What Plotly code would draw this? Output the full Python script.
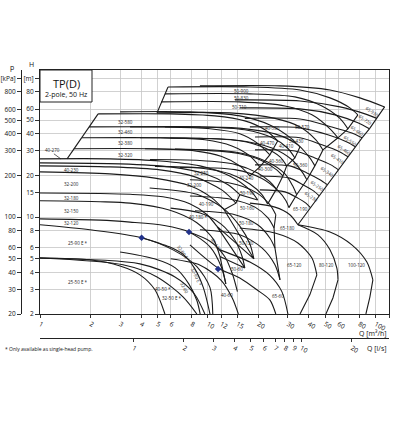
import numpy as np
import plotly.graph_objects as go

FONT = "Open Sans"
INK = "#1b1b1b"
GRID = "#c6c6c6"

# ---------------- axes -----------------
q_ticks = [1, 2, 3, 4, 5, 6, 8, 10, 12, 15, 20, 30, 40, 50, 60, 80, 100, 120]
h_ticks = [2, 3, 4, 5, 6, 8, 10, 15, 20, 30, 40, 50, 60, 80, 100]
h_text = ["2", "3", "4", "5", "6", "8", "10", "15", "20", "30", "40", "50", "60", "80", "[m]"]
p_ticks = [20, 30, 40, 50, 60, 80, 100, 200, 300, 400, 500, 600, 800, 1000]
p_text = ["20", "30", "40", "50", "60", "80", "100", "200", "300", "400", "500", "600", "800", "[kPa]"]
ls_ticks = [1, 2, 3, 4, 5, 6, 7, 8, 9, 10, 20]
q_range = [1, 120]
h_range = [2, 115]

# ---------------- pump curves (Q m3/h, H m) -----------------
tp32_580 = ([2.22, 5.95, 11.0, 16.6, 21.9, 26.1], [55.5, 55.5, 53.7, 49.4, 42.6, 35.5])
tp32_460 = ([1.96, 5.55, 10.3, 15.5, 19.8, 23.4], [44.7, 44.7, 43.3, 39.9, 34.0, 28.1])
tp32_380 = ([1.78, 5.19, 9.61, 13.9, 17.8, 20.4], [37.3, 37.3, 36.1, 32.6, 27.6, 23.0])
tp32_320 = ([1.59, 4.52, 8.38, 12.1, 15.5, 17.8], [31.1, 31.1, 30.0, 27.3, 23.4, 19.8])
diag1 = ([1.45, 2.22], [26.3, 55.5])

tp40_580 = ([3.0, 7.82, 15.5, 23.4, 30.8, 35.4], [57.4, 57.4, 53.7, 46.2, 37.6, 32.1])
tp40_470 = ([3.44, 8.97, 16.6, 24.2, 29.8, 33.0], [44.7, 44.7, 42.6, 37.3, 31.5, 26.7])
tp40_410 = ([3.94, 8.97, 15.5, 21.9, 26.9, 29.5], [37.3, 37.0, 35.5, 31.5, 27.2, 23.4])
tp40_360 = ([4.22, 8.97, 15.5, 21.0, 25.6, 28.0], [31.1, 30.5, 28.6, 25.5, 22.0, 19.8])
tp40_300 = ([4.52, 8.97, 14.5, 19.8, 23.4, 25.6], [26.0, 25.6, 24.0, 20.8, 18.0, 15.9])
tp40_240 = ([4.84, 8.97, 13.5, 17.8, 21.0, 22.7], [23.2, 22.6, 20.5, 17.3, 14.5, 12.4])

tp50_900 = ([5.79, 17.8, 35.4, 53.4, 70.2, 78.3], [86.8, 86.8, 82.6, 72.4, 61.3, 54.6])
tp50_830 = ([5.55, 17.8, 33.0, 47.8, 61.2, 68.3], [77.4, 77.4, 73.6, 63.3, 51.5, 43.3])
tp50_710 = ([5.26, 15.5, 28.8, 41.7, 53.4, 59.6], [67.7, 67.7, 63.3, 54.6, 43.3, 37.3])
tp50_570 = ([4.98, 13.5, 25.1, 35.4, 44.0, 48.5], [56.4, 56.4, 51.5, 44.7, 36.1, 30.5])
diag2 = ([4.98, 5.79], [56.4, 86.8])
tp50_430 = ([5.55, 14.5, 25.1, 34.4, 40.5, 43.4], [44.7, 44.0, 39.8, 33.2, 26.7, 23.4])
tp50_360 = ([5.95, 14.5, 24.1, 31.7, 36.4, 38.9], [37.2, 36.0, 31.5, 25.9, 21.2, 18.6])
tp50_290 = ([6.37, 14.5, 22.7, 28.8, 32.0, 33.8], [31.0, 29.5, 25.0, 20.5, 16.8, 14.5])
tp50_240 = ([6.82, 14.5, 21.0, 26.2, 29.2, 30.4], [22.8, 22.0, 19.0, 15.5, 13.1, 11.7])

tp65_930 = ([8.97, 26.9, 53.4, 80.5, 113], [88.3, 88.3, 82.6, 72.4, 62.3])
tp65_720 = ([14.5, 35.4, 61.2, 86.3, 101.5], [70.0, 68.8, 62.3, 55.5, 51.5])
tp65_660 = ([15.5, 35.4, 57.2, 78.3, 91.7], [61.3, 60.3, 54.6, 47.8, 43.3])
tp65_550 = ([16.6, 35.4, 54.8, 72.1, 82.9], [51.5, 51.0, 44.7, 40.4, 37.3])
tp65_460 = ([17.8, 35.4, 51.9, 67.4, 75.7], [44.7, 44.0, 39.2, 34.8, 32.1])
tp65_410 = ([19.1, 35.4, 47.8, 61.2, 68.4], [37.8, 37.3, 33.2, 29.5, 27.2])
tp65_340 = ([19.1, 33.0, 43.4, 54.1, 60.0], [30.5, 30.0, 26.7, 23.8, 21.9])
tp65_250 = ([19.1, 30.8, 38.9, 46.5, 51.6], [23.8, 23.4, 20.8, 18.6, 17.1])
tp65_230 = ([20.4, 30.8, 36.9, 42.8, 46.1], [19.8, 19.1, 17.1, 15.4, 14.2])
tp65_190 = ([20.4, 28.8, 34.4, 38.4, 40.8], [15.7, 15.2, 13.7, 12.6, 11.7])
tp65_180 = ([17.8, 25.1, 30.8, 34.4], [12.6, 11.8, 10.4, 8.8])

tp40_270 = ([1, 2.61, 5.19, 8.97, 13.5, 17.8, 19.8], [26.3, 26.3, 25.4, 23.4, 19.8, 15.7, 13.3])
tp32_250 = ([1, 3.0, 5.95, 9.61, 13.2, 15.5], [24.6, 24.2, 23.0, 20.5, 17.1, 14.5])
tp40_230 = ([1, 2.61, 5.19, 8.38, 12.1, 14.7], [23.4, 23.0, 21.9, 19.5, 15.7, 12.6])
tp32_200 = ([1, 2.61, 4.84, 7.82, 10.6, 12.5], [21.2, 20.5, 19.1, 16.8, 13.7, 11.3])
tp32_180 = ([1, 2.28, 3.44, 5.4, 7.8, 9.9, 11.3], [14.9, 14.8, 14.6, 14.0, 12.5, 10.4, 8.6])
tp32_150 = ([1, 2.28, 3.44, 5.95, 8.6, 10.8, 11.8], [13.1, 12.9, 12.6, 11.2, 9.1, 6.9, 5.2])
tp32_120 = ([1, 2.28, 3.44, 5.5, 7.72, 10.3, 12.0, 12.8], [9.7, 9.5, 9.2, 8.7, 7.81, 6.1, 4.4, 3.3])
tp40_190 = ([4.5, 8.6, 12.3, 15.5, 17.8, 18.8], [16.2, 14.6, 11.6, 8.6, 6.4, 5.0])
tp40_180 = ([6.0, 9.0, 12.0, 14.5, 16.0, 16.6], [11.6, 10.7, 8.9, 6.8, 5.2, 4.3])
tp25_90 = ([1, 1.98, 4.03, 6.2, 8.6, 10.3, 10.7], [8.8, 8.1, 7.1, 5.8, 4.4, 3.1, 2.0])
tp32_90 = ([4.03, 5.9, 7.1, 8.3, 9.4, 10.3], [7.1, 6.1, 5.4, 4.3, 3.1, 2.0])
tp32_60 = ([3.0, 4.8, 6.4, 7.7, 8.6, 9.0], [5.6, 5.0, 4.3, 3.3, 2.5, 2.0])
tp25_50 = ([1, 1.98, 3.0, 3.94, 4.84, 5.55], [5.07, 4.92, 4.44, 3.83, 2.99, 2.0])
tp32_50 = ([1, 3.12, 4.98, 7.11, 8.6], [5.07, 4.53, 3.70, 2.66, 2.0])
tp40_50 = ([1, 3.94, 6.37, 8.3, 9.6], [5.07, 4.6, 3.7, 2.8, 2.0])
tp40_120 = ([7.72, 10.3, 12.6, 14.0, 15.0], [7.81, 6.7, 5.2, 3.9, 2.9])
tp40_60 = ([6.0, 9.0, 12.0, 14.0, 15.2], [5.0, 4.5, 3.5, 2.6, 2.0])

tp50_190 = ([7.82, 13.5, 19.1, 23.4, 25.4], [18.6, 17.6, 15.2, 12.3, 10.4])
tp50_160 = ([7.82, 13.5, 19.1, 22.8, 24.8], [14.2, 13.5, 11.8, 9.86, 8.35])
tp50_180 = ([8.38, 14.5, 19.8, 23.4, 25.1], [11.1, 10.4, 8.8, 7.07, 5.99])
tp50_120 = ([8.97, 15.5, 21.0, 25.1, 26.9], [8.1, 7.45, 6.0, 4.53, 3.53])
tp50_60 = ([7.82, 11.5, 15.5, 19.6, 23.4, 25.4], [6.3, 4.29, 3.64, 2.99, 2.53, 2.0])
tp65_60 = ([11.8, 17.8, 23.4, 27.6, 30.0], [5.8, 4.74, 3.8, 2.9, 2.0])
tp65_120 = ([15.5, 25.1, 34.4, 41.7, 44.6], [8.35, 7.68, 6.51, 5.07, 3.83])
tp65_120_end = ([44.6, 40.5, 35.4], [3.83, 2.75, 2.0])
tp80_120 = ([34.4, 45.3, 53.4, 58.7, 59.6], [8.8, 7.45, 5.81, 4.29, 3.53])
tp80_120_end = ([59.6, 55.6, 50.5], [3.53, 2.61, 2.0])
tp100_120 = ([34.4, 53.4, 72.1, 88.6, 96.2], [8.8, 7.81, 6.31, 4.74, 3.53])
tp100_120_end = ([96.2, 92.3, 87.4], [3.53, 2.65, 2.0])

# leader from the "40-270" label to its curve
pointer_40_270 = ([1.21, 1.33], [28.6, 26.3])

mark_q = [4.03, 7.72, 11.5]
mark_h = [7.1, 7.81, 4.22]

lab_text = ["40-270", "40-230", "32-200", "32-180", "32-150", "32-120", "25-90 E *", "25-50 E *",
            "32-580", "32-460", "32-380", "32-320", "50-900", "50-830", "50-710",
            "40-580", "50-570", "40-470", "50-430", "40-410", "40-360", "50-360", "40-300",
            "40-240", "32-250", "32-200", "40-190", "40-180 *", "40-120", "32-80 E", "32-90 E *",
            "32-60", "40-50 *", "32-50 E *", "40-60", "50-190", "50-160", "50-180", "50-120",
            "50-60", "65-190", "65-180", "65-120", "80-120", "100-120", "65-60",
            "65-930", "65-720", "65-660", "65-550", "65-460", "65-410", "65-340", "65-250", "65-230"]
lab_q = [1.18, 1.55, 1.55, 1.55, 1.55, 1.55, 1.68, 1.68,
         3.21, 3.21, 3.21, 3.21, 15.96, 15.96, 15.5,
         24.4, 36.4, 22.8, 33.9, 29.5, 25.8, 35.4, 21.9,
         17.1, 9.22, 8.3, 9.88, 8.73, 11.3, 7.1, 8.6,
         7.3, 5.4, 6.1, 13.0, 17.3, 17.3, 17.1, 17.1,
         14.9, 35.4, 30.0, 33.0, 51.2, 77.3, 26.1,
         96.2, 87.4, 78.3, 71.2, 65.6, 59.6, 51.9, 45.3, 41.7]
lab_h = [30.5, 21.9, 17.3, 13.7, 11.0, 9.1, 6.5, 3.4,
         48.6, 41.1, 34.1, 28.1, 81.3, 72.4, 62.3,
         44.0, 44.7, 34.1, 35.5, 32.7, 25.4, 23.8, 22.3,
         19.1, 20.8, 16.9, 12.4, 10.0, 6.3, 5.6, 3.7,
         3.1, 3.05, 2.6, 2.75, 14.9, 11.7, 9.1, 6.5,
         4.2, 11.45, 8.35, 4.53, 4.53, 4.53, 2.70,
         57.4, 50.2, 41.8, 35.5, 30.5, 26.1, 21.2, 16.8, 14.0]
lab_angle = [0] * 23 + [0, 0, 0, 0, 0, 55, 55, 65,
                        62, 0, 0, 0, 0, 0, 0, 0,
                        0, 0, 0, 0, 0, 0, 0] + [35] * 9

fig = go.Figure()


def add_line(curve, shape="spline", width=1.1):
    fig.add_trace(go.Scatter(x=curve[0], y=curve[1], mode="lines",
                             line=dict(color=INK, width=width, shape=shape, smoothing=0.8),
                             hoverinfo="skip", showlegend=False))


families = [
    [tp32_580, tp32_460, tp32_380, tp32_320],
    [tp40_580, tp40_470, tp40_410, tp40_360, tp40_300, tp40_240],
    [tp50_900, tp50_830, tp50_710, tp50_570, tp50_430, tp50_360, tp50_290, tp50_240],
    [tp65_930, tp65_720, tp65_660, tp65_550, tp65_460, tp65_410, tp65_340, tp65_250,
     tp65_230, tp65_190, tp65_180],
    [tp40_270, tp32_250, tp40_230, tp32_200, tp40_190, tp32_180, tp40_180, tp32_150, tp32_120],
    [tp50_190, tp50_160, tp50_180, tp50_120],
]
singles = [tp25_90, tp32_90, tp32_60, tp25_50, tp32_50, tp40_50, tp40_120, tp40_60,
           tp50_60, tp65_60, tp65_120, tp80_120, tp100_120]
tails = [tp65_120_end, tp80_120_end, tp100_120_end, diag1, diag2]

for fam in families:
    for c in fam:
        add_line(c)
    add_line(([c[0][-1] for c in fam], [c[1][-1] for c in fam]), shape="linear")
for c in singles:
    add_line(c)
for c in tails:
    add_line(c, shape="linear")
add_line(pointer_40_270, shape="linear", width=0.7)

fig.add_trace(go.Scatter(x=mark_q, y=mark_h, mode="markers",
                         marker=dict(symbol="diamond", size=5, color="#22328a"),
                         hoverinfo="skip", showlegend=False))

fig.add_trace(go.Scatter(x=[1], y=[5], xaxis="x2", yaxis="y", mode="markers",
                         marker=dict(opacity=0), hoverinfo="skip", showlegend=False))
fig.add_trace(go.Scatter(x=[2], y=[50], xaxis="x", yaxis="y2", mode="markers",
                         marker=dict(opacity=0), hoverinfo="skip", showlegend=False))

annotations = []
for t, q, h, a in zip(lab_text, lab_q, lab_h, lab_angle):
    annotations.append(dict(x=np.log10(q), y=np.log10(h), xref="x", yref="y", text=t,
                            showarrow=False, textangle=a, xanchor="center", yanchor="middle",
                            font=dict(family=FONT, size=4.5, color="#222")))

W, H = 398, 425
ML, MR, MT, MB = 21, 9, 70, 87
PW, PH = W - ML - MR, H - MT - MB


def px(xp):
    return (xp - ML) / PW


def py(yp):
    return (H - MB - yp) / PH


def paper_text(x, y, text, size, anchor="center"):
    return dict(x=px(x), y=py(y), xref="paper", yref="paper", text=text, showarrow=False,
                xanchor=anchor, yanchor="middle", font=dict(family=FONT, size=size, color="#111"))


annotations += [
    paper_text(66, 83, "TP(D)", 11),
    paper_text(66, 94, "2-pole, 50 Hz", 7),
    paper_text(31, 64, "H", 7),
    paper_text(12, 67, "p", 7),
    paper_text(389, 333, "Q [m³/h]", 7, "right"),
    paper_text(389, 348, "Q [l/s]", 7, "right"),
    paper_text(3, 349, "* Only available as single-head pump.", 5, "left"),
]

axis_font = dict(family=FONT, size=6.5, color="#111")
fig.update_layout(
    width=W, height=H, margin=dict(l=ML, r=MR, t=MT, b=MB, autoexpand=False),
    paper_bgcolor="white", plot_bgcolor="white",
    annotations=annotations,
    shapes=[dict(type="rect", xref="paper", yref="paper", x0=px(40), x1=px(92),
                 y0=py(102), y1=1.0, line=dict(color="#222", width=1),
                 fillcolor="white", layer="above")],
    xaxis=dict(type="log", range=[np.log10(q_range[0]), np.log10(q_range[1])],
               domain=[px(40), 1.0], anchor="y", tickvals=q_ticks, automargin=False,
               ticktext=[str(v) for v in q_ticks], ticks="outside", ticklen=3,
               tickcolor="#333", showgrid=True, gridcolor=GRID, gridwidth=0.8,
               showline=True, linecolor="#222", linewidth=1, mirror=True,
               zeroline=False, tickfont=axis_font),
    yaxis=dict(type="log", range=[np.log10(h_range[0]), np.log10(h_range[1])],
               domain=[py(314), 1.0], anchor="x", tickvals=h_ticks, ticktext=h_text,
               automargin=False,
               ticks="outside", ticklen=4, tickcolor="#333", showgrid=True,
               gridcolor=GRID, gridwidth=0.8, showline=True, linecolor="#222",
               linewidth=1, mirror=True, zeroline=False, tickfont=axis_font),
    yaxis2=dict(type="log", overlaying="y", anchor="free", position=0, side="left",
                automargin=False,
                range=[np.log10(20), np.log10(1152)], tickvals=p_ticks, ticktext=p_text,
                ticks="outside", ticklen=4, tickcolor="#333", showgrid=False,
                showline=True, linecolor="#222", linewidth=1, zeroline=False,
                tickfont=axis_font),
    xaxis2=dict(type="log", overlaying="x", anchor="free", position=0, side="bottom",
                automargin=False,
                range=[np.log10(q_range[0] / 3.6), np.log10(q_range[1] / 3.6)],
                tickvals=ls_ticks, ticktext=[str(v) for v in ls_ticks], ticks="outside",
                ticklen=3, tickcolor="#333", showgrid=False, showline=True,
                linecolor="#222", linewidth=1, zeroline=False, tickfont=axis_font),
)

# remove the browser's default 8 px page margin so the figure sits at the window origin
fig.write_html("out.html", config={"displayModeBar": False, "staticPlot": True},
               post_script="document.body.style.margin='0';document.body.style.padding='0';")
